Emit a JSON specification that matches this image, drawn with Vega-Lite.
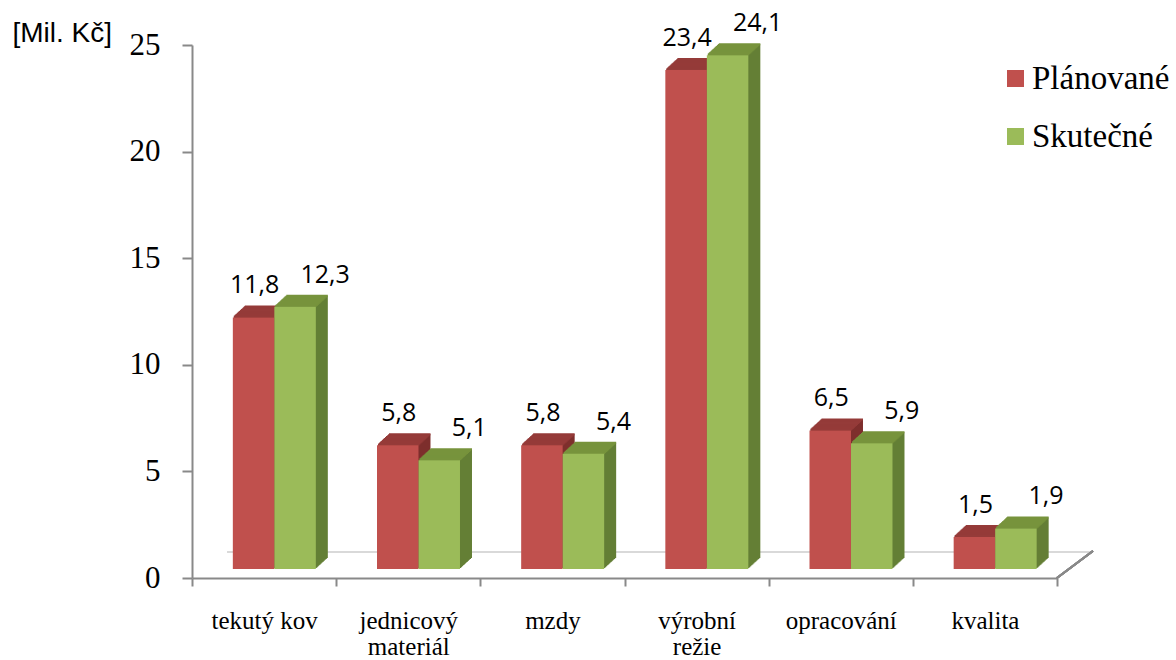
{
  "$schema": "https://vega.github.io/schema/vega-lite/v6.json",
  "width": 865,
  "height": 533,
  "autosize": {"type": "none"},
  "padding": {"left": 192, "top": 45, "right": 119, "bottom": 82},
  "background": "white",
  "datasets": {
    "plan": [
      {"kategorie": "tekutý kov", "rada": "Plánované", "hodnota": 11.8},
      {"kategorie": "jednicový materiál", "rada": "Plánované", "hodnota": 5.8},
      {"kategorie": "mzdy", "rada": "Plánované", "hodnota": 5.8},
      {"kategorie": "výrobní režie", "rada": "Plánované", "hodnota": 23.4},
      {"kategorie": "opracování", "rada": "Plánované", "hodnota": 6.5},
      {"kategorie": "kvalita", "rada": "Plánované", "hodnota": 1.5}
    ],
    "skut": [
      {"kategorie": "tekutý kov", "rada": "Skutečné", "hodnota": 12.3},
      {"kategorie": "jednicový materiál", "rada": "Skutečné", "hodnota": 5.1},
      {"kategorie": "mzdy", "rada": "Skutečné", "hodnota": 5.4},
      {"kategorie": "výrobní režie", "rada": "Skutečné", "hodnota": 24.1},
      {"kategorie": "opracování", "rada": "Skutečné", "hodnota": 5.9},
      {"kategorie": "kvalita", "rada": "Skutečné", "hodnota": 1.9}
    ]
  },
  "data": {"name": "plan"},
  "encoding": {
    "x": {
      "field": "kategorie", "type": "nominal", "sort": null,
      "scale": {"domain": ["tekutý kov", "jednicový materiál", "mzdy", "výrobní režie", "opracování", "kvalita"], "paddingInner": 0, "paddingOuter": 0},
      "axis": {
        "title": null, "domainColor": "#898989", "domainWidth": 2,
        "tickColor": "#898989", "tickWidth": 2, "tickSize": 8, "tickBand": "extent",
        "labelFont": "Liberation Serif", "labelFontSize": 25, "labelColor": "#000000",
        "labelPadding": 22, "labelLineHeight": 26, "labelAngle": 0, "labelLimit": 0,
        "labelExpr": "!isValid(datum.value) ? '' : (datum.value == 'tekutý kov' ? datum.value : split(datum.value, ' '))"
      }
    },
    "y": {
      "field": "hodnota", "type": "quantitative",
      "scale": {"domain": [0, 25], "nice": false},
      "axis": {
        "values": [0, 5, 10, 15, 20, 25], "grid": false,
        "domainColor": "#898989", "domainWidth": 2,
        "tickColor": "#898989", "tickWidth": 2, "tickSize": 10,
        "labelFont": "Liberation Serif", "labelFontSize": 31, "labelColor": "#000000", "labelPadding": 22,
        "title": "[Mil. Kč]", "titleFont": "Liberation Sans", "titleFontSize": 28, "titleFontWeight": "normal",
        "titleColor": "#000000", "titleAngle": 0, "titleAlign": "left", "titleBaseline": "alphabetic",
        "titleX": -180, "titleY": -4
      }
    }
  },
  "layer": [
    {"mark": {"type": "rule", "color": "#d9d9d9", "strokeWidth": 1.5, "xOffset": -37, "x2Offset": 108, "yOffset": -26},
     "encoding": {"x": {"datum": "tekutý kov"}, "x2": {"datum": "kvalita"}, "y": {"datum": 0}}},
    {"mark": {"type": "rule", "color": "#898989", "strokeWidth": 2, "xOffset": 72, "x2Offset": 108, "y2Offset": -27},
     "encoding": {"x": {"datum": "kvalita"}, "x2": {"datum": "kvalita"}, "y": {"datum": 0}, "y2": {"datum": 0}}},

    {"data": {"name": "plan"}, "mark": {"type": "bar", "color": "#7E2F2D", "width": {"band": 0.2878}, "xOffset": 1.5, "yOffset": -20.04, "y2Offset": -20.04}, "encoding": {"y2": {"datum": 0}}},
    {"data": {"name": "plan"}, "mark": {"type": "bar", "color": "#953B39", "width": {"band": 0.2878}, "xOffset": 1.5, "yOffset": -21.04, "y2Offset": -19.04}, "encoding": {"y2": {"field": "hodnota"}}},
    {"data": {"name": "skut"}, "mark": {"type": "bar", "color": "#647F36", "width": {"band": 0.2878}, "xOffset": 43, "yOffset": -20.04, "y2Offset": -20.04}, "encoding": {"y2": {"datum": 0}}},
    {"data": {"name": "skut"}, "mark": {"type": "bar", "color": "#77933C", "width": {"band": 0.2878}, "xOffset": 43, "yOffset": -21.04, "y2Offset": -19.04}, "encoding": {"y2": {"field": "hodnota"}}},

    {"data": {"name": "plan"}, "mark": {"type": "bar", "color": "#7E2F2D", "width": {"band": 0.2878}, "xOffset": 0.5, "yOffset": -19.12, "y2Offset": -19.12}, "encoding": {"y2": {"datum": 0}}},
    {"data": {"name": "plan"}, "mark": {"type": "bar", "color": "#953B39", "width": {"band": 0.2878}, "xOffset": 0.5, "yOffset": -20.12, "y2Offset": -18.12}, "encoding": {"y2": {"field": "hodnota"}}},
    {"data": {"name": "skut"}, "mark": {"type": "bar", "color": "#647F36", "width": {"band": 0.2878}, "xOffset": 42, "yOffset": -19.12, "y2Offset": -19.12}, "encoding": {"y2": {"datum": 0}}},
    {"data": {"name": "skut"}, "mark": {"type": "bar", "color": "#77933C", "width": {"band": 0.2878}, "xOffset": 42, "yOffset": -20.12, "y2Offset": -18.12}, "encoding": {"y2": {"field": "hodnota"}}},

    {"data": {"name": "plan"}, "mark": {"type": "bar", "color": "#7E2F2D", "width": {"band": 0.2878}, "xOffset": -0.5, "yOffset": -18.2, "y2Offset": -18.2}, "encoding": {"y2": {"datum": 0}}},
    {"data": {"name": "plan"}, "mark": {"type": "bar", "color": "#953B39", "width": {"band": 0.2878}, "xOffset": -0.5, "yOffset": -19.2, "y2Offset": -17.2}, "encoding": {"y2": {"field": "hodnota"}}},
    {"data": {"name": "skut"}, "mark": {"type": "bar", "color": "#647F36", "width": {"band": 0.2878}, "xOffset": 41, "yOffset": -18.2, "y2Offset": -18.2}, "encoding": {"y2": {"datum": 0}}},
    {"data": {"name": "skut"}, "mark": {"type": "bar", "color": "#77933C", "width": {"band": 0.2878}, "xOffset": 41, "yOffset": -19.2, "y2Offset": -17.2}, "encoding": {"y2": {"field": "hodnota"}}},

    {"data": {"name": "plan"}, "mark": {"type": "bar", "color": "#7E2F2D", "width": {"band": 0.2878}, "xOffset": -1.5, "yOffset": -17.28, "y2Offset": -17.28}, "encoding": {"y2": {"datum": 0}}},
    {"data": {"name": "plan"}, "mark": {"type": "bar", "color": "#953B39", "width": {"band": 0.2878}, "xOffset": -1.5, "yOffset": -18.28, "y2Offset": -16.28}, "encoding": {"y2": {"field": "hodnota"}}},
    {"data": {"name": "skut"}, "mark": {"type": "bar", "color": "#647F36", "width": {"band": 0.2878}, "xOffset": 40, "yOffset": -17.28, "y2Offset": -17.28}, "encoding": {"y2": {"datum": 0}}},
    {"data": {"name": "skut"}, "mark": {"type": "bar", "color": "#77933C", "width": {"band": 0.2878}, "xOffset": 40, "yOffset": -18.28, "y2Offset": -16.28}, "encoding": {"y2": {"field": "hodnota"}}},

    {"data": {"name": "plan"}, "mark": {"type": "bar", "color": "#7E2F2D", "width": {"band": 0.2878}, "xOffset": -2.5, "yOffset": -16.36, "y2Offset": -16.36}, "encoding": {"y2": {"datum": 0}}},
    {"data": {"name": "plan"}, "mark": {"type": "bar", "color": "#953B39", "width": {"band": 0.2878}, "xOffset": -2.5, "yOffset": -17.36, "y2Offset": -15.36}, "encoding": {"y2": {"field": "hodnota"}}},
    {"data": {"name": "skut"}, "mark": {"type": "bar", "color": "#647F36", "width": {"band": 0.2878}, "xOffset": 39, "yOffset": -16.36, "y2Offset": -16.36}, "encoding": {"y2": {"datum": 0}}},
    {"data": {"name": "skut"}, "mark": {"type": "bar", "color": "#77933C", "width": {"band": 0.2878}, "xOffset": 39, "yOffset": -17.36, "y2Offset": -15.36}, "encoding": {"y2": {"field": "hodnota"}}},

    {"data": {"name": "plan"}, "mark": {"type": "bar", "color": "#7E2F2D", "width": {"band": 0.2878}, "xOffset": -3.5, "yOffset": -15.44, "y2Offset": -15.44}, "encoding": {"y2": {"datum": 0}}},
    {"data": {"name": "plan"}, "mark": {"type": "bar", "color": "#953B39", "width": {"band": 0.2878}, "xOffset": -3.5, "yOffset": -16.44, "y2Offset": -14.44}, "encoding": {"y2": {"field": "hodnota"}}},
    {"data": {"name": "skut"}, "mark": {"type": "bar", "color": "#647F36", "width": {"band": 0.2878}, "xOffset": 38, "yOffset": -15.44, "y2Offset": -15.44}, "encoding": {"y2": {"datum": 0}}},
    {"data": {"name": "skut"}, "mark": {"type": "bar", "color": "#77933C", "width": {"band": 0.2878}, "xOffset": 38, "yOffset": -16.44, "y2Offset": -14.44}, "encoding": {"y2": {"field": "hodnota"}}},

    {"data": {"name": "plan"}, "mark": {"type": "bar", "color": "#7E2F2D", "width": {"band": 0.2878}, "xOffset": -4.5, "yOffset": -14.52, "y2Offset": -14.52}, "encoding": {"y2": {"datum": 0}}},
    {"data": {"name": "plan"}, "mark": {"type": "bar", "color": "#953B39", "width": {"band": 0.2878}, "xOffset": -4.5, "yOffset": -15.52, "y2Offset": -13.52}, "encoding": {"y2": {"field": "hodnota"}}},
    {"data": {"name": "skut"}, "mark": {"type": "bar", "color": "#647F36", "width": {"band": 0.2878}, "xOffset": 37, "yOffset": -14.52, "y2Offset": -14.52}, "encoding": {"y2": {"datum": 0}}},
    {"data": {"name": "skut"}, "mark": {"type": "bar", "color": "#77933C", "width": {"band": 0.2878}, "xOffset": 37, "yOffset": -15.52, "y2Offset": -13.52}, "encoding": {"y2": {"field": "hodnota"}}},

    {"data": {"name": "plan"}, "mark": {"type": "bar", "color": "#7E2F2D", "width": {"band": 0.2878}, "xOffset": -5.5, "yOffset": -13.6, "y2Offset": -13.6}, "encoding": {"y2": {"datum": 0}}},
    {"data": {"name": "plan"}, "mark": {"type": "bar", "color": "#953B39", "width": {"band": 0.2878}, "xOffset": -5.5, "yOffset": -14.6, "y2Offset": -12.6}, "encoding": {"y2": {"field": "hodnota"}}},
    {"data": {"name": "skut"}, "mark": {"type": "bar", "color": "#647F36", "width": {"band": 0.2878}, "xOffset": 36, "yOffset": -13.6, "y2Offset": -13.6}, "encoding": {"y2": {"datum": 0}}},
    {"data": {"name": "skut"}, "mark": {"type": "bar", "color": "#77933C", "width": {"band": 0.2878}, "xOffset": 36, "yOffset": -14.6, "y2Offset": -12.6}, "encoding": {"y2": {"field": "hodnota"}}},

    {"data": {"name": "plan"}, "mark": {"type": "bar", "color": "#7E2F2D", "width": {"band": 0.2878}, "xOffset": -6.5, "yOffset": -12.68, "y2Offset": -12.68}, "encoding": {"y2": {"datum": 0}}},
    {"data": {"name": "plan"}, "mark": {"type": "bar", "color": "#953B39", "width": {"band": 0.2878}, "xOffset": -6.5, "yOffset": -13.68, "y2Offset": -11.68}, "encoding": {"y2": {"field": "hodnota"}}},
    {"data": {"name": "skut"}, "mark": {"type": "bar", "color": "#647F36", "width": {"band": 0.2878}, "xOffset": 35, "yOffset": -12.68, "y2Offset": -12.68}, "encoding": {"y2": {"datum": 0}}},
    {"data": {"name": "skut"}, "mark": {"type": "bar", "color": "#77933C", "width": {"band": 0.2878}, "xOffset": 35, "yOffset": -13.68, "y2Offset": -11.68}, "encoding": {"y2": {"field": "hodnota"}}},

    {"data": {"name": "plan"}, "mark": {"type": "bar", "color": "#7E2F2D", "width": {"band": 0.2878}, "xOffset": -7.5, "yOffset": -11.76, "y2Offset": -11.76}, "encoding": {"y2": {"datum": 0}}},
    {"data": {"name": "plan"}, "mark": {"type": "bar", "color": "#953B39", "width": {"band": 0.2878}, "xOffset": -7.5, "yOffset": -12.76, "y2Offset": -10.76}, "encoding": {"y2": {"field": "hodnota"}}},
    {"data": {"name": "skut"}, "mark": {"type": "bar", "color": "#647F36", "width": {"band": 0.2878}, "xOffset": 34, "yOffset": -11.76, "y2Offset": -11.76}, "encoding": {"y2": {"datum": 0}}},
    {"data": {"name": "skut"}, "mark": {"type": "bar", "color": "#77933C", "width": {"band": 0.2878}, "xOffset": 34, "yOffset": -12.76, "y2Offset": -10.76}, "encoding": {"y2": {"field": "hodnota"}}},

    {"data": {"name": "plan"}, "mark": {"type": "bar", "color": "#7E2F2D", "width": {"band": 0.2878}, "xOffset": -8.5, "yOffset": -10.84, "y2Offset": -10.84}, "encoding": {"y2": {"datum": 0}}},
    {"data": {"name": "plan"}, "mark": {"type": "bar", "color": "#953B39", "width": {"band": 0.2878}, "xOffset": -8.5, "yOffset": -11.84, "y2Offset": -9.84}, "encoding": {"y2": {"field": "hodnota"}}},
    {"data": {"name": "skut"}, "mark": {"type": "bar", "color": "#647F36", "width": {"band": 0.2878}, "xOffset": 33, "yOffset": -10.84, "y2Offset": -10.84}, "encoding": {"y2": {"datum": 0}}},
    {"data": {"name": "skut"}, "mark": {"type": "bar", "color": "#77933C", "width": {"band": 0.2878}, "xOffset": 33, "yOffset": -11.84, "y2Offset": -9.84}, "encoding": {"y2": {"field": "hodnota"}}},

    {"data": {"name": "plan"}, "mark": {"type": "bar", "color": "#7E2F2D", "width": {"band": 0.2878}, "xOffset": -9.5, "yOffset": -9.92, "y2Offset": -9.92}, "encoding": {"y2": {"datum": 0}}},
    {"data": {"name": "plan"}, "mark": {"type": "bar", "color": "#953B39", "width": {"band": 0.2878}, "xOffset": -9.5, "yOffset": -10.92, "y2Offset": -8.92}, "encoding": {"y2": {"field": "hodnota"}}},
    {"data": {"name": "skut"}, "mark": {"type": "bar", "color": "#647F36", "width": {"band": 0.2878}, "xOffset": 32, "yOffset": -9.92, "y2Offset": -9.92}, "encoding": {"y2": {"datum": 0}}},
    {"data": {"name": "skut"}, "mark": {"type": "bar", "color": "#77933C", "width": {"band": 0.2878}, "xOffset": 32, "yOffset": -10.92, "y2Offset": -8.92}, "encoding": {"y2": {"field": "hodnota"}}},

    {"data": {"name": "plan"}, "mark": {"type": "bar", "width": {"band": 0.2878}, "xOffset": -10.5, "yOffset": -9, "y2Offset": -9},
     "encoding": {"y2": {"datum": 0},
       "color": {"field": "rada", "type": "nominal", "scale": {"domain": ["Plánované", "Skutečné"], "range": ["#C0504D", "#9BBB59"]},
         "legend": {"title": null, "orient": "none", "legendX": 807, "legendY": 17, "direction": "vertical", "symbolType": "square", "symbolSize": 289, "symbolStrokeWidth": 0, "symbolOpacity": 1, "labelFont": "Liberation Serif", "labelFontSize": 33, "labelColor": "#000000", "labelOffset": 0, "rowPadding": 24, "padding": 0, "labelLimit": 0}}}},
    {"data": {"name": "skut"}, "mark": {"type": "bar", "width": {"band": 0.2878}, "xOffset": 31, "yOffset": -9, "y2Offset": -9},
     "encoding": {"y2": {"datum": 0},
       "color": {"field": "rada", "type": "nominal", "scale": {"domain": ["Plánované", "Skutečné"], "range": ["#C0504D", "#9BBB59"]},
         "legend": {"title": null, "orient": "none", "legendX": 807, "legendY": 17, "direction": "vertical", "symbolType": "square", "symbolSize": 289, "symbolStrokeWidth": 0, "symbolOpacity": 1, "labelFont": "Liberation Serif", "labelFontSize": 33, "labelColor": "#000000", "labelOffset": 0, "rowPadding": 24, "padding": 0, "labelLimit": 0}}}},

    {"data": {"name": "plan"}, "mark": {"type": "text", "font": "Open Sans", "fontSize": 25, "color": "#000000", "align": "center", "baseline": "alphabetic", "dx": -9.5, "dy": -33},
     "encoding": {"text": {"field": "hodnota", "type": "quantitative", "format": ".1f"}}},
    {"data": {"name": "skut"}, "mark": {"type": "text", "font": "Open Sans", "fontSize": 25, "color": "#000000", "align": "center", "baseline": "alphabetic", "dx": 61, "dy": -33},
     "encoding": {"text": {"field": "hodnota", "type": "quantitative", "format": ".1f"}}}
  ],
  "config": {
    "locale": {"number": {"decimal": ",", "thousands": " ", "grouping": [3], "currency": ["", " Kč"]}},
    "view": {"stroke": null},
    "axis": {"grid": false}
  }
}
